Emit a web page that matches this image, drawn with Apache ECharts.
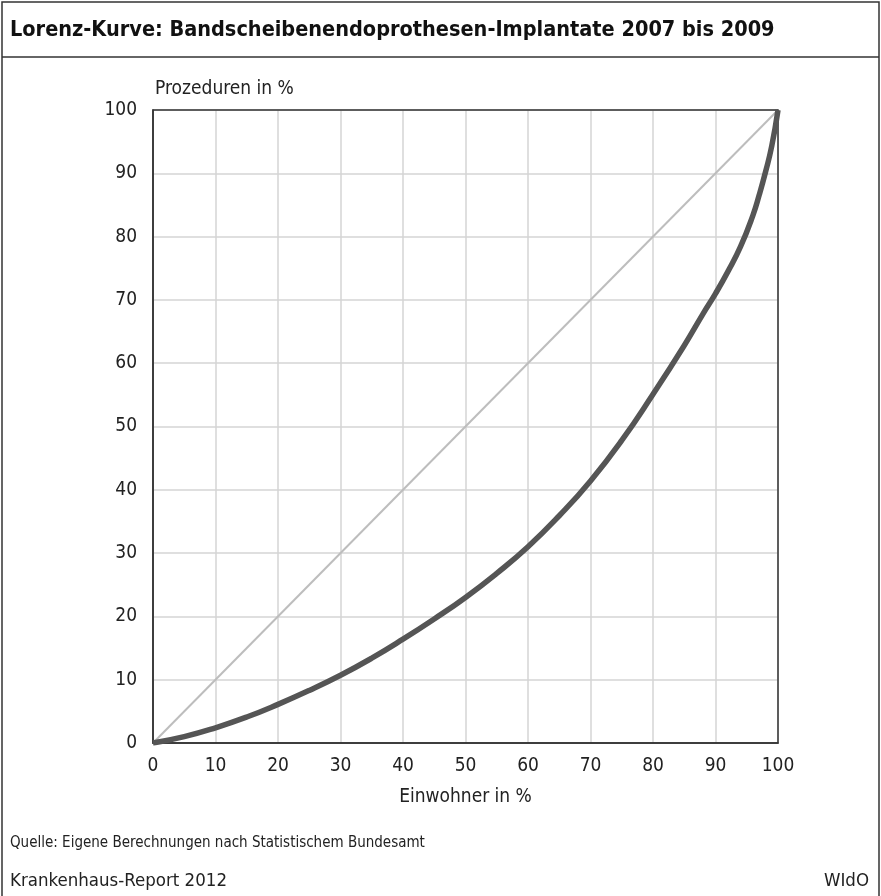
<!DOCTYPE html>
<html><head><meta charset="utf-8">
<script src="https://cdn.jsdelivr.net/npm/echarts@6/dist/echarts.min.js"></script>
<style>html,body{margin:0;padding:0;background:#fff}#c{width:881px;height:896px}</style>
</head><body><div id="c"></div>
<script>
const titleText = 'Lorenz-Kurve: Bandscheibenendoprothesen-Implantate 2007 bis 2009';
const xAxisName = 'Einwohner in %';
const yAxisName = 'Prozeduren in %';
const sourceText = 'Quelle: Eigene Berechnungen nach Statistischem Bundesamt';
const footerLeft = 'Krankenhaus-Report 2012';
const footerRight = 'WIdO';
const einwohner = [0, 5, 10, 15, 20, 25, 30, 35, 40, 45, 50, 55, 60, 65, 70, 75, 80, 85, 88, 90, 92, 94, 96, 97, 98, 99, 100];
const prozeduren = [0, 1.0, 2.4, 4.1, 6.1, 8.3, 10.7, 13.4, 16.4, 19.6, 23.0, 26.8, 31.0, 35.9, 41.4, 47.8, 55.1, 62.8, 67.8, 71.0, 74.5, 78.4, 83.4, 86.6, 90.2, 94.3, 100];
const equality = [[0, 0], [100, 100]];

const FONT = '"Liberation Sans Narrow", "DejaVu Sans Condensed", sans-serif';
const chart = echarts.init(document.getElementById('c'));
chart.setOption({
  animation: false,
  backgroundColor: '#fff',
  textStyle: { fontFamily: FONT },
  grid: { left: 153, right: 103, top: 110, bottom: 153, show: true, borderColor: '#333', borderWidth: 1.5, z: 3 },
  xAxis: {
    type: 'value', min: 0, max: 100, interval: 10,
    name: xAxisName, nameLocation: 'middle', nameGap: 45,
    nameTextStyle: { fontSize: 19, color: '#222', fontFamily: FONT },
    axisLine: { show: true, lineStyle: { color: '#333', width: 1.5 } },
    axisTick: { show: false },
    axisLabel: { fontSize: 19, color: '#222', margin: 14, fontFamily: FONT },
    splitLine: { show: true, lineStyle: { color: '#d4d4d4', width: 1.5 } }
  },
  yAxis: {
    type: 'value', min: 0, max: 100, interval: 10,
    name: yAxisName, nameLocation: 'end', nameGap: 11,
    nameTextStyle: { fontSize: 19, color: '#222', align: 'left', padding: [0, 0, 0, 2], fontFamily: FONT },
    axisLine: { show: true, lineStyle: { color: '#333', width: 1.5 } },
    axisTick: { show: false },
    axisLabel: { fontSize: 19, color: '#222', margin: 16, fontFamily: FONT },
    splitLine: { show: true, lineStyle: { color: '#d4d4d4', width: 1.5 } }
  },
  series: [
    { type: 'line', data: equality, symbol: 'none', lineStyle: { color: '#bdbdbd', width: 2 }, z: 2 },
    { type: 'line', data: einwohner.map((x, i) => [x, prozeduren[i]]), smooth: 0.5, symbol: 'none', lineStyle: { color: '#555', width: 5.5 }, z: 4 }
  ],
  graphic: [
    { type: 'rect', shape: { x: 2, y: 2, width: 877, height: 900 }, style: { fill: 'none', stroke: '#333', lineWidth: 1.5 }, z: 10 },
    { type: 'line', shape: { x1: 2, y1: 57, x2: 879, y2: 57 }, style: { stroke: '#333', lineWidth: 1.5 }, z: 10 },
    { type: 'text', left: 10, top: 19, style: { text: titleText, fontSize: 21.5, fontWeight: 'bold', fill: '#111', fontFamily: FONT } },
    { type: 'text', left: 10, top: 836, style: { text: sourceText, fontSize: 15, fill: '#222', fontFamily: FONT } },
    { type: 'text', left: 10, top: 872, style: { text: footerLeft, fontSize: 18.5, fill: '#222', fontFamily: FONT } },
    { type: 'text', right: 12, top: 872, style: { text: footerRight, fontSize: 18.5, fill: '#222', fontFamily: FONT } }
  ]
});
</script></body></html>
